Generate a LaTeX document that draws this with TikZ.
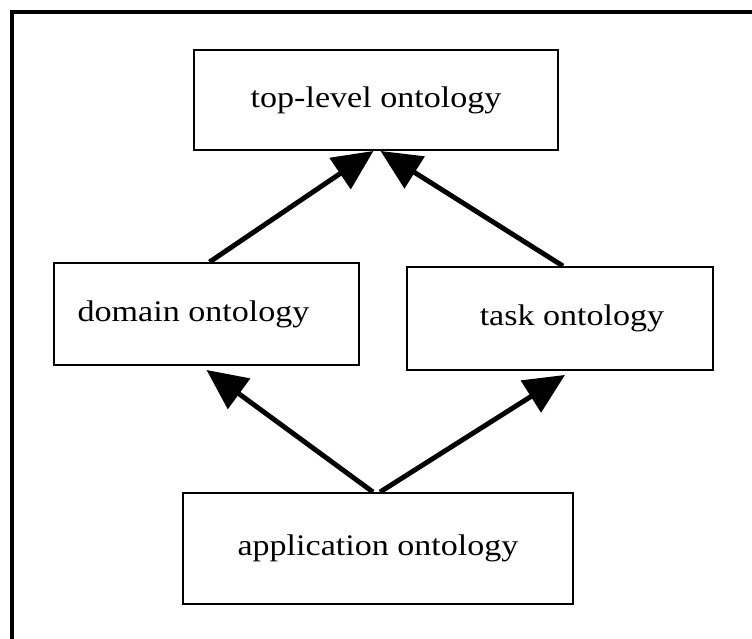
\documentclass[tikz,border=0pt]{standalone}
\usepackage{fontspec}
\setmainfont[FakeStretch=1.14]{Liberation Serif}
\usetikzlibrary{arrows.meta}
\tikzset{
    box/.style={draw, line width=1.1pt, inner sep=0pt, font=\fontsize{17}{20}\selectfont},
    arr/.style={line width=2.8pt, -{Triangle[length=23pt,width=21pt]}}
}
\begin{document}
\begin{tikzpicture}[x=0.02cm, y=-0.02cm]
        \useasboundingbox
            (0,0) rectangle (752,639);
        \draw[line width=2pt]
            (12,645) -- (12,12) -- (760,12);
        \node[box, minimum width=7.28cm, minimum height=2cm]
            (top) at (376,100) {top-level ontology};
        \node[box, minimum width=6.1cm, minimum height=2.04cm,
            label={[font=\fontsize{17}{20}\selectfont, xshift=-0.26cm]center:domain ontology}]
            (domain) at (206.5,314) {};
        \node[box, minimum width=6.12cm, minimum height=2.06cm,
            label={[font=\fontsize{17}{20}\selectfont, xshift=0.24cm]center:task ontology}]
            (task) at (560,318.5) {};
        \node[box, minimum width=7.8cm, minimum height=2.22cm]
            (app) at (378,548.5) {application ontology};
        % arrows
        \draw[arr]
            ([xshift=0.06cm]domain.north) -- ([xshift=-0.05cm]top.south);
        \draw[arr]
            ([xshift=0.06cm]task.north) -- ([xshift=0.09cm]top.south);
        \draw[arr]
            ([xshift=-0.1cm]app.north) -- ([yshift=-0.08cm]domain.south);
        \draw[arr]
            ([xshift=0.04cm]app.north) -- ([xshift=0.1cm,yshift=-0.08cm]task.south);
    \end{tikzpicture}
\end{document}
